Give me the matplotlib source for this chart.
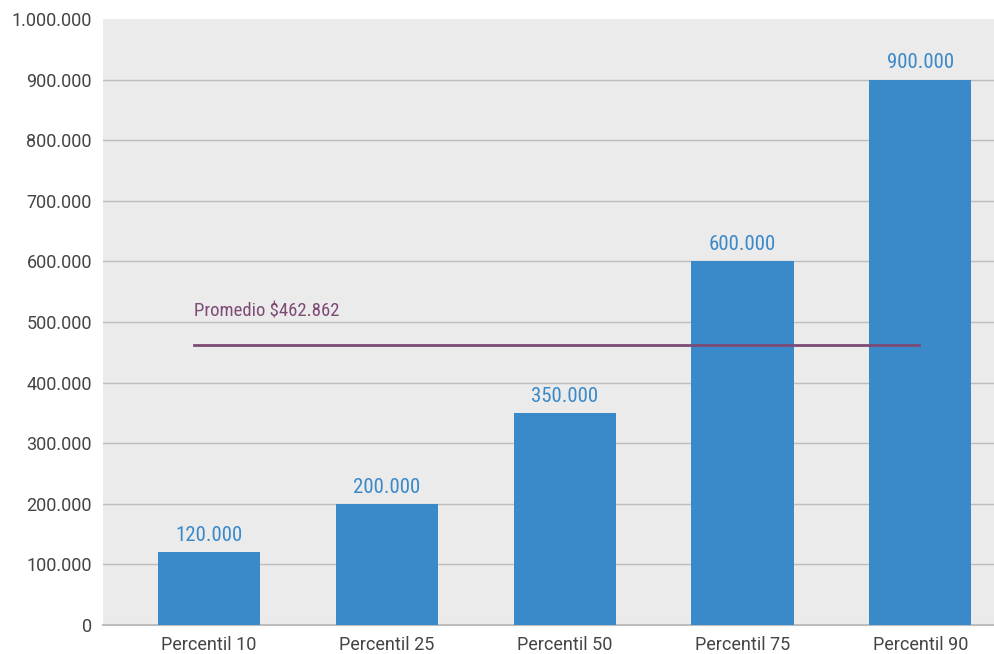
import matplotlib.pyplot as plt
from matplotlib import font_manager

categories = ['Percentil 10', 'Percentil 25', 'Percentil 50', 'Percentil 75', 'Percentil 90']
values = [120000, 200000, 350000, 600000, 900000]
promedio = 462862
yticks = [0, 100000, 200000, 300000, 400000, 500000, 600000, 700000, 800000, 900000, 1000000]


def fmt(v):
    return f'{v:,.0f}'.replace(',', '.')


installed = {f.name for f in font_manager.fontManager.ttflist}
narrow = 'DejaVu Sans'
for name in ['Roboto Condensed', 'Liberation Sans Narrow', 'Open Sans Condensed', 'DejaVu Sans Condensed']:
    if name in installed:
        narrow = name
        break
base = 'Roboto' if 'Roboto' in installed else 'DejaVu Sans'

fig = plt.figure(figsize=(9.95, 6.54), dpi=100)
ax = fig.add_axes([103 / 995, 29 / 654, 892 / 995, 606 / 654])
ax.set_facecolor('#ebebeb')

x = list(range(len(categories)))
ax.bar(x, values, width=0.574, color='#3a89c9', zorder=3)
for xi, v in zip(x, values):
    ax.text(xi, v + 12000, fmt(v), ha='center', va='bottom', color='#3a89c9',
            fontsize=15, family=narrow, stretch='condensed', zorder=4)

ax.plot([-0.084, 3.99], [promedio, promedio], color='#7d4b75', lw=2, zorder=4)
ax.text(-0.084, promedio + 40000, 'Promedio $' + fmt(promedio), ha='left', va='bottom',
        color='#7d4b75', fontsize=13.5, family=narrow, stretch='condensed', zorder=4)

# gridlines, except at the top edge
for t in yticks[1:-1]:
    ax.axhline(t, color='#bdbdbd', lw=1, zorder=1)

ax.set_xlim(-0.596, 4.42)
ax.set_ylim(0, 1000000)
ax.set_yticks(yticks)
ax.set_yticklabels([fmt(t) for t in yticks], family=base, fontsize=13, color='#444444')
ax.set_xticks(x)
ax.set_xticklabels(categories, family=base, fontsize=13, color='#444444')
ax.tick_params(length=0, pad=8)
for s in ['top', 'right', 'left']:
    ax.spines[s].set_visible(False)
ax.spines['bottom'].set_color('#bdbdbd')
ax.spines['bottom'].set_linewidth(1.5)

fig.savefig('out.png', dpi=100)
